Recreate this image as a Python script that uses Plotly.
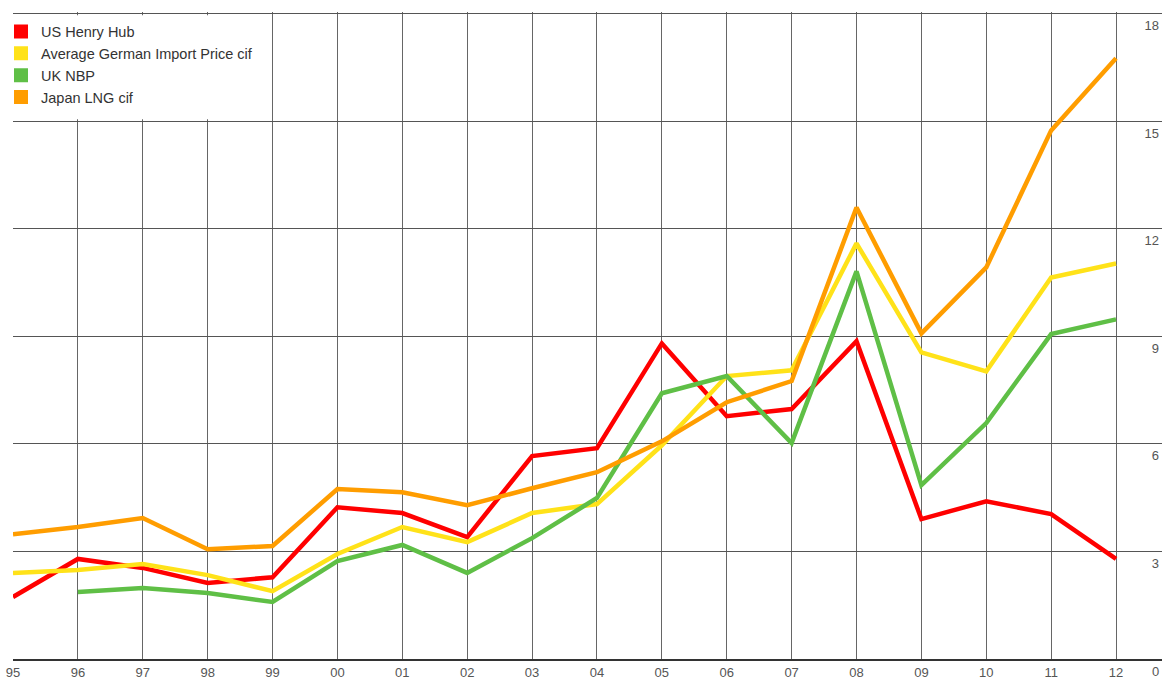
import plotly.graph_objects as go

years = ["95", "96", "97", "98", "99", "00", "01", "02", "03", "04",
         "05", "06", "07", "08", "09", "10", "11", "12"]

us_henry_hub = [1.73, 2.79, 2.54, 2.12, 2.28, 4.23, 4.07, 3.40, 5.66, 5.88,
                8.80, 6.77, 6.97, 8.86, 3.90, 4.40, 4.04, 2.79]
german_import = [2.40, 2.48, 2.65, 2.34, 1.89, 2.93, 3.68, 3.26, 4.07, 4.32,
                 5.96, 7.89, 8.05, 11.59, 8.55, 8.02, 10.64, 11.03]
uk_nbp = [None, 1.87, 1.98, 1.84, 1.59, 2.73, 3.18, 2.40, 3.37, 4.49,
          7.41, 7.89, 6.02, 10.81, 4.85, 6.58, 9.06, 9.47]
japan_lng = [3.48, 3.68, 3.93, 3.06, 3.15, 4.74, 4.65, 4.29, 4.76, 5.21,
             6.07, 7.16, 7.75, 12.59, 9.08, 10.92, 14.74, 16.75]

series_names = ["US Henry Hub", "Average German Import Price cif", "UK NBP", "Japan LNG cif"]
series_values = [us_henry_hub, german_import, uk_nbp, japan_lng]
colors = ["#FF0000", "#FFE219", "#5FBF46", "#FF9D00"]

y_ticks = [0, 3, 6, 9, 12, 15, 18]

fig = go.Figure()

# legend-only square swatches
for name, col in zip(series_names, colors):
    fig.add_trace(go.Scatter(x=[None], y=[None], mode="markers", name=name,
                             marker=dict(symbol="square", size=14, color=col),
                             showlegend=True, hoverinfo="skip"))

for name, vals, col in zip(series_names, series_values, colors):
    fig.add_trace(go.Scatter(x=years, y=vals, mode="lines", name=name,
                             line=dict(color=col, width=4.5), showlegend=False,
                             connectgaps=False))

W, H = 1164, 677
left, right, top, bottom = 12, 2, 12, 18
plot_w = W - left - right
plot_h = H - top - bottom
spacing = (1116 - 12) / 17.0
x_max = plot_w / spacing
y_top = 18 + 1.5 / (plot_h / 18.0)

fig.update_layout(
    width=W, height=H,
    margin=dict(l=left, r=right, t=top, b=bottom, pad=0),
    paper_bgcolor="white", plot_bgcolor="white",
    font=dict(family="Liberation Sans, Arial, sans-serif", color="#555555", size=13),
    xaxis=dict(type="category", categoryorder="array", categoryarray=years,
               range=[0, x_max], showgrid=True, gridcolor="#666666", gridwidth=1,
               showline=True, linecolor="#333333", linewidth=2,
               ticks="", tickfont=dict(size=13, color="#555555"), zeroline=False,
               fixedrange=True, automargin=False),
    yaxis=dict(range=[0, y_top], tickvals=y_ticks, side="right",
               ticklabelposition="inside", ticklabelshift=12, ticklabelstandoff=0,
               showgrid=True, gridcolor="#555555", gridwidth=1, zeroline=False,
               ticks="", tickfont=dict(size=13, color="#555555"), fixedrange=True,
               automargin=False),
    legend=dict(x=-11 / plot_w, y=1 - 3.5 / plot_h, xanchor="left", yanchor="top",
                bgcolor="rgba(0,0,0,0)", font=dict(size=14.5, color="#333333"),
                itemclick=False, itemdoubleclick=False, tracegroupgap=0),
    showlegend=True,
)

# the bottom "0" label of the right-hand scale (inside labels below the axis get hidden)
fig.add_annotation(xref="paper", x=1, xanchor="right", xshift=-1,
                   yref="y", y=y_ticks[0], yanchor="top", yshift=-3,
                   text=str(y_ticks[0]), showarrow=False,
                   font=dict(size=13, color="#555555"))

# white panel behind the legend, covering the gridlines there (no data in that area)
fig.add_shape(type="rect", xref="x domain", yref="y domain",
              x0=0.0, x1=(262 - 12) / plot_w, y0=(15.05 / y_top), y1=(17.95 / y_top),
              fillcolor="white", line=dict(width=0), layer="above")

fig.write_html("out.html", config={"displayModeBar": False},
               post_script="document.body.style.margin='0';")
